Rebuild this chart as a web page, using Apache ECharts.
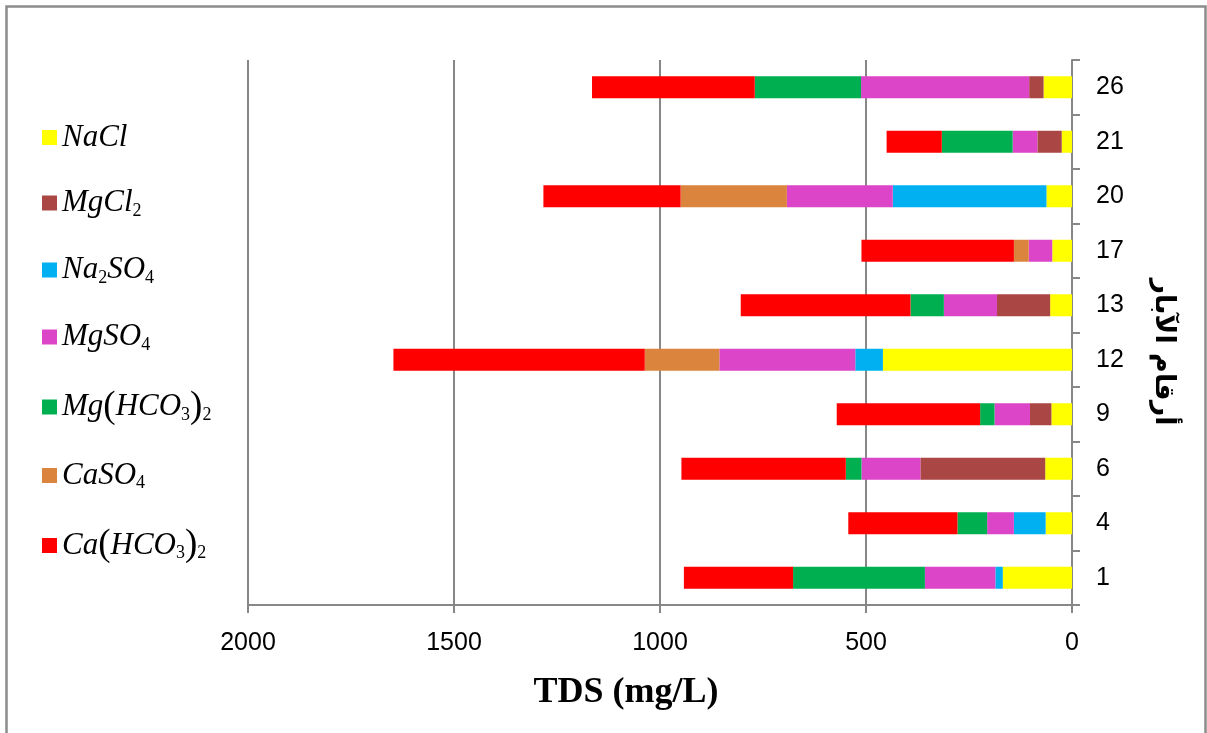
<!DOCTYPE html>
<html>
<head>
<meta charset="utf-8">
<script src="https://cdn.jsdelivr.net/npm/echarts@6/dist/echarts.min.js"></script>
<style>
  html, body { margin: 0; padding: 0; background: #ffffff; }
  #chart { width: 1207px; height: 733px; }
</style>
</head>
<body>
<div id="chart"></div>
<script>
// Well numbers (bottom to top)
const wells = ['1', '4', '6', '9', '12', '13', '17', '20', '21', '26'];

// Salt contributions to TDS (mg/L) per well, stacked outward from zero
const NaCl      = [168, 64, 65, 50, 459, 53, 48, 62, 25, 69];
const MgCl2     = [0, 0, 303, 52, 0, 129, 0, 0, 59, 35];
const Na2SO4    = [18, 77, 0, 0, 67, 0, 0, 373, 0, 0];
const MgSO4     = [171, 65, 143, 86, 330, 129, 57, 257, 60, 408];
const MgHCO3_2  = [320, 72, 38, 35, 0, 81, 0, 0, 172, 258];
const CaSO4     = [0, 0, 0, 0, 181, 0, 36, 258, 0, 0];
const CaHCO3_2  = [265, 265, 399, 348, 610, 412, 370, 333, 134, 395];

const xTicks = { min: 0, max: 2000, interval: 500 };

const seriesDefs = [
  { name: 'NaCl',      data: NaCl,     color: '#FFFF00' },
  { name: 'MgCl2',     data: MgCl2,    color: '#AA4644' },
  { name: 'Na2SO4',    data: Na2SO4,   color: '#00B0F0' },
  { name: 'MgSO4',     data: MgSO4,    color: '#DC45C8' },
  { name: 'Mg(HCO3)2', data: MgHCO3_2, color: '#00B050' },
  { name: 'CaSO4',     data: CaSO4,    color: '#DB843D' },
  { name: 'Ca(HCO3)2', data: CaHCO3_2, color: '#FF0000' }
];

// Chemical formula as rich text: digits become subscripts
function formula(name) {
  let out = '';
  for (const ch of name) {
    if (/[0-9]/.test(ch)) out += '{s|' + ch + '}';
    else if (ch === '(' || ch === ')') out += '{p|' + ch + '}';
    else out += '{m|' + ch + '}';
  }
  return out;
}

const axisGray = '#878787';

const chart = echarts.init(document.getElementById('chart'));
chart.setOption({
  backgroundColor: '#ffffff',
  animation: false,
  grid: { left: 248, right: 135, top: 60, bottom: 128, containLabel: false },
  legend: {
    orient: 'vertical',
    left: 42,
    top: 122,
    padding: 0,
    itemWidth: 15,
    itemHeight: 15,
    itemGap: 34.5,
    icon: 'rect',
    selectedMode: false,
    data: seriesDefs.map(s => s.name),
    formatter: formula,
    textStyle: {
      color: '#000',
      rich: {
        m: { fontFamily: 'Liberation Serif', fontStyle: 'italic', fontSize: 31, lineHeight: 34, color: '#000' },
        p: { fontFamily: 'Liberation Serif', fontSize: 37, lineHeight: 34, color: '#000' },
        s: { fontFamily: 'Liberation Serif', fontSize: 18, lineHeight: 14, verticalAlign: 'bottom', color: '#000' }
      }
    }
  },
  xAxis: {
    type: 'value',
    inverse: true,
    min: xTicks.min,
    max: xTicks.max,
    interval: xTicks.interval,
    axisLine: { show: true, lineStyle: { color: axisGray, width: 2 } },
    axisTick: { show: true, length: 8, lineStyle: { color: axisGray, width: 2 } },
    splitLine: { show: true, lineStyle: { color: axisGray, width: 2 } },
    axisLabel: {
      fontFamily: 'Liberation Sans', fontSize: 25, color: '#000', margin: 26,
      formatter: v => String(v)
    }
  },
  yAxis: {
    type: 'category',
    position: 'right',
    data: wells,
    axisLine: { show: true, lineStyle: { color: axisGray, width: 2 } },
    axisTick: { show: true, length: 8, lineStyle: { color: axisGray, width: 2 } },
    splitLine: { show: false },
    axisLabel: { fontFamily: 'Liberation Sans', fontSize: 25, color: '#000', margin: 24 }
  },
  series: seriesDefs.map(s => ({
    name: s.name,
    type: 'bar',
    stack: 'tds',
    barWidth: 22,
    data: s.data,
    itemStyle: { color: s.color }
  })),
  graphic: [
    {
      type: 'rect',
      silent: true,
      shape: { x: 6.5, y: 6.5, width: 1199, height: 800 },
      style: { fill: 'none', stroke: '#8c8c8c', lineWidth: 2.5 }
    },
    {
      type: 'text',
      x: 626,
      y: 693,
      style: {
        text: 'TDS (mg/L)',
        fontFamily: 'Liberation Serif',
        fontWeight: 'bold',
        fontSize: 36,
        fill: '#000',
        align: 'center',
        verticalAlign: 'middle'
      }
    },
    {
      type: 'text',
      x: 1163,
      y: 352,
      rotation: -Math.PI / 2,
      style: {
        text: 'أرقام الآبار',
        fontFamily: 'DejaVu Sans',
        fontWeight: 'bold',
        fontSize: 27,
        fill: '#000',
        align: 'center',
        verticalAlign: 'middle'
      }
    }
  ]
});
</script>
</body>
</html>
